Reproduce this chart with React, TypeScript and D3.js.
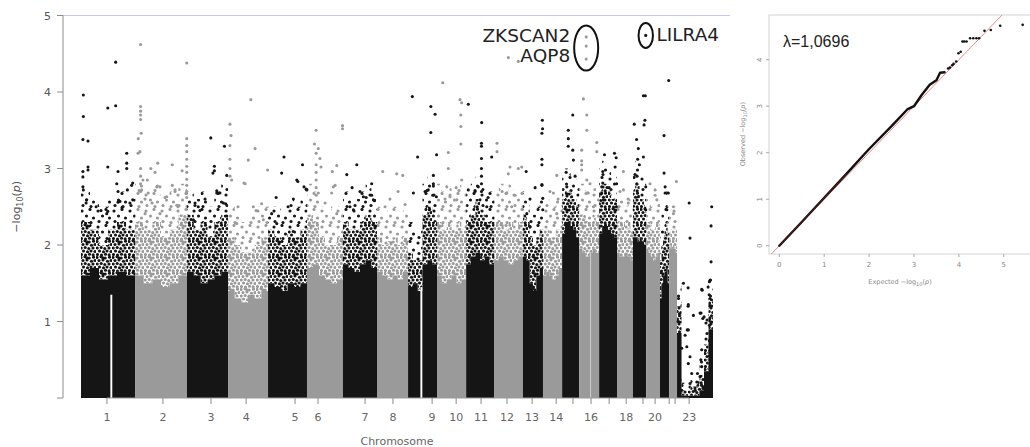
import React from "react";
import * as d3 from "d3";

// ---------- Manhattan data ----------
const chromosomes = ["1","2","3","4","5","6","7","8","9","10","11","12","13","14","15","16","17","18","19","20","21","22","23"];
const chrLengthsMb = [254,244,193,188,183,169,160,146,136,137,131,136,94,90,80,94,84,75,62,65,43,37,169];
const chrTickMb = [122,385,611,776,1006,1114,1335,1466,1650,1763,1880,2002,2120,2233,2312,2397,2482,2562,2641,2698,2764,2792,2858];
const chrTickLabels = ["1","2","3","4","5","6","7","8","9","10","11","12","13","14","","16","","18","","20","","","23"];

// top of the solid (fully overplotted) body of each chromosome, -log10(p)
const solidTop = [
  [1.6,1.7,1.55,1.6,1.65,1.6],
  [1.6,1.5,1.55,1.45,1.5,1.6],
  [1.65,1.6,1.5,1.55,1.6,1.65],
  [1.4,1.3,1.25,1.35,1.3,1.4],
  [1.5,1.45,1.4,1.5,1.45,1.5],
  [1.7,1.75,1.6,1.55,1.5,1.55],
  [1.75,1.7,1.65,1.75,1.8,1.7],
  [1.65,1.6,1.55,1.6,1.55,1.65],
  [1.45,1.5,1.4,1.75,1.8,1.75],
  [1.6,1.5,1.55,1.6,1.5,1.55],
  [1.75,1.85,1.9,1.8,1.85,1.75],
  [1.8,1.85,1.8,1.75,1.8,1.85],
  [1.85,1.8,1.5,1.4,1.6,1.7],
  [1.6,1.65,1.6,1.55,1.6,1.7],
  [2.15,2.3,2.3,2.25,2.2,2.1],
  [1.95,1.9,1.85,1.9,1.95,1.9],
  [2.15,2.25,2.25,2.2,2.15,2.1],
  [1.9,1.85,1.85,1.9,1.85,1.8],
  [2.1,2.1,2.05,2.1,2.05,2.0],
  [1.95,1.9,1.85,1.8,1.85,1.9],
  [1.3,1.5,1.6,1.65,1.7,1.5],
  [1.95,2.0,1.95,2.0,1.95,1.9],
  [0.85,0.03,0.03,0.03,0.03,0.1,0.35,0.9],
];
// top of the dense speckled zone above the solid body
const denseTop = [
  [2.3,2.2,2.0,2.2,2.3,2.2],
  [2.3,2.2,2.3,2.1,2.2,2.4],
  [2.4,2.2,2.3,2.1,2.3,2.4],
  [2.1,2.0,1.9,1.9,2.0,2.1],
  [2.2,2.1,2.0,2.2,2.1,2.2],
  [2.4,2.3,2.1,2.0,2.0,2.1],
  [2.3,2.2,2.2,2.3,2.4,2.3],
  [2.1,2.0,2.05,2.1,2.0,2.1],
  [1.9,1.8,1.8,2.4,2.5,2.3],
  [2.3,2.2,2.3,2.2,2.3,2.2],
  [2.3,2.4,2.6,2.4,2.3,2.3],
  [2.3,2.3,2.2,2.3,2.2,2.3],
  [2.4,2.3,2.1,2.0,2.1,2.2],
  [2.2,2.2,2.1,2.1,2.2,2.2],
  [2.6,2.7,2.7,2.6,2.6,2.5],
  [2.4,2.4,2.3,2.3,2.4,2.3],
  [2.7,2.8,2.8,2.7,2.6,2.6],
  [2.3,2.3,2.3,2.2,2.3,2.2],
  [2.7,2.8,2.8,2.6,2.6,2.5],
  [2.3,2.3,2.2,2.2,2.3,2.3],
  [1.8,2.0,2.1,2.2,2.3,2.1],
  [2.1,2.2,2.2,2.2,2.2,2.2],
  [1.2,0.1,0.1,0.15,0.15,0.3,0.7,1.3],
];
// top of the thinning scatter zone above the dense zone
const sparseTop = [
  [2.7,2.6,2.5,2.6,2.7,2.6],
  [2.8,2.7,2.8,2.6,2.7,2.8],
  [2.7,2.6,2.7,2.5,2.7,2.8],
  [2.5,2.4,2.3,2.4,2.5,2.5],
  [2.5,2.5,2.4,2.6,2.5,2.6],
  [2.8,2.7,2.5,2.4,2.5,2.5],
  [2.7,2.6,2.6,2.7,2.8,2.6],
  [2.5,2.4,2.5,2.5,2.4,2.5],
  [2.3,2.2,2.2,2.8,2.9,2.7],
  [2.8,2.7,2.8,2.7,2.8,2.7],
  [2.7,2.8,2.9,2.8,2.7,2.7],
  [2.7,2.8,2.7,2.8,2.7,2.7],
  [2.7,2.6,2.4,2.4,2.5,2.6],
  [2.6,2.6,2.5,2.5,2.6,2.6],
  [2.9,3.0,3.0,2.9,2.9,2.8],
  [2.8,2.8,2.7,2.7,2.8,2.7],
  [3.0,3.1,3.1,3.0,2.9,2.9],
  [2.6,2.6,2.6,2.5,2.6,2.5],
  [3.0,3.1,3.1,2.9,2.9,2.8],
  [2.6,2.6,2.5,2.5,2.6,2.6],
  [2.2,2.4,2.5,2.6,2.7,2.5],
  [2.4,2.5,2.5,2.5,2.5,2.5],
  [1.5,0.2,0.2,0.25,0.25,0.5,1.0,1.6],
];
// white centromere gaps: [startMb, endMb, top]
const gapStart = [138, 1595, 2393];
const gapEnd = [147, 1604, 2397];
const gapTop = [1.35, 1.45, 1.9];

// individual SNPs above the dense body: [chromosome, cumulative Mb, -log10(p)]
const topHits: [number, number, number][] = [
  [1,11,3.96],[1,11,3.68],[1,9,3.38],[1,33,3.36],[1,9,2.96],[1,33,3.02],[1,9,2.89],[1,9,2.76],[1,33,2.98],[1,163,4.39],[1,126,3.79],[1,163,3.82],[1,126,3.02],[1,215,3.2],[1,215,3.07],[1,215,3.0],[1,174,2.96],[1,174,2.7],[1,218,2.72],[1,243,2.81],[1,243,2.59],[1,126,2.44],[1,174,2.56],[1,193,2.49],[1,71,2.5],[1,94,2.45],[1,24,2.55],[1,11,2.72],[1,27,2.59],[1,121,2.41],[1,168,2.8],[1,183,2.57],[1,230,2.55],[1,238,2.78],
  [2,280,4.62],[2,280,3.81],[2,280,3.75],[2,280,3.7],[2,280,3.64],[2,283,3.46],[2,269,3.39],[2,277,3.22],[2,268,3.2],[2,497,4.38],[2,497,3.39],[2,497,3.3],[2,497,3.22],[2,497,3.12],[2,497,3.03],[2,497,2.95],[2,497,2.86],[2,497,2.78],[2,497,2.7],[2,497,2.62],[2,361,3.07],[2,429,3.05],[2,328,3.0],[2,348,2.95],[2,312,2.85],[2,291,2.85],[2,371,2.76],[2,429,2.78],[2,442,2.7],[2,475,2.97],[2,280,3.0],[2,280,2.9],[2,280,2.8],[2,280,2.7],[2,395,2.62],[2,334,2.55],[2,456,2.5],[2,301,2.6],[2,285,2.72],[2,316,2.68],[2,356,2.76],[2,403,2.63],[2,442,2.72],[2,450,2.52],[2,371,2.41],[2,301,2.41],
  [3,610,3.4],[3,627,3.03],[3,627,2.97],[3,674,3.29],[3,638,2.71],[3,653,2.68],[3,685,2.91],[3,680,2.54],[3,620,2.94],[3,536,2.55],[3,583,2.6],[3,559,2.45],[3,551,2.5],[3,638,2.68],[3,669,2.55],[3,685,2.38],[3,528,2.33],
  [4,700,3.58],[4,705,3.43],[4,700,3.3],[4,700,3.12],[4,700,3.0],[4,700,2.9],[4,708,2.85],[4,798,3.9],[4,818,3.26],[4,786,3.11],[4,766,2.81],[4,877,2.98],[4,849,2.54],[4,738,2.5],[4,823,2.45],[4,771,2.8],[4,810,2.5],[4,857,2.33],[4,732,2.28],
  [5,954,3.15],[5,943,2.94],[5,1041,3.05],[5,1019,2.83],[5,1048,2.76],[5,1058,2.73],[5,998,2.6],[5,896,2.41],[5,973,2.5],[5,917,2.62],[5,920,2.28],[5,1014,2.85],[5,1061,2.72],
  [6,1105,3.5],[6,1097,3.32],[6,1115,3.26],[6,1105,3.2],[6,1123,3.13],[6,1105,3.05],[6,1105,2.95],[6,1105,2.85],[6,1105,2.75],[6,1105,2.65],[6,1128,3.02],[6,1202,3.04],[6,1181,2.96],[6,1194,2.78],[6,1178,2.68],[6,1229,3.56],[6,1229,3.52],[6,1147,2.55],[6,1115,2.68],[6,1186,2.76],[6,1202,2.41],
  [7,1249,2.92],[7,1296,3.05],[7,1340,2.62],[7,1366,2.65],[7,1379,2.58],[7,1311,2.7],[7,1264,2.5],[7,1274,2.75],[7,1280,2.46],[7,1327,2.63],[7,1374,2.59],[7,1366,2.8],
  [8,1418,2.96],[8,1484,2.93],[8,1512,2.91],[8,1452,2.6],[8,1429,2.5],[8,1490,2.7],[8,1523,2.53],
  [9,1557,3.94],[9,1644,3.81],[9,1664,3.71],[9,1644,3.47],[9,1582,3.15],[9,1671,3.18],[9,1562,2.68],[9,1656,2.91],[9,1656,2.8],[9,1656,2.77],[9,1617,2.7],[9,1632,2.72],[9,1653,2.65],[9,1670,2.63],[9,1637,2.46],[9,1656,2.38],
  [10,1700,4.12],[10,1781,3.9],[10,1789,3.86],[10,1785,3.7],[10,1785,3.55],[10,1785,3.32],[10,1726,3.21],[10,1726,3.0],[10,1763,2.75],[10,1711,2.6],[10,1719,2.76],[10,1734,2.63],[10,1789,2.85],[10,1766,2.59],
  [11,1820,3.84],[11,1883,3.6],[11,1882,3.33],[11,1882,3.29],[11,1882,3.13],[11,1882,3.0],[11,1882,2.9],[11,1882,2.8],[11,1882,2.7],[11,1930,3.15],[11,1852,2.7],[11,1913,2.62],[11,1820,2.72],[11,1867,2.76],[11,1875,2.59],[11,1907,2.5],
  [12,2008,4.45],[12,2055,4.4],[12,1955,3.33],[12,1955,3.22],[12,2008,2.93],[12,2055,3.0],[12,2016,3.02],[12,2071,3.02],[12,1979,2.7],[12,2040,2.65],[12,2001,2.68],[12,2024,2.5],
  [13,2092,2.96],[13,2168,3.63],[13,2166,3.46],[13,2169,3.52],[13,2166,3.12],[13,2166,3.05],[13,2166,2.79],[13,2134,2.75],[13,2110,2.6],[13,2166,2.78],[13,2170,2.61],[13,2170,2.46],[13,2095,2.41],[13,2110,2.24],
  [14,2236,2.91],[14,2204,2.7],[14,2242,2.6],[14,2220,2.68],[14,2236,2.41],
  [15,2290,3.5],[15,2290,3.39],[15,2290,3.29],[15,2311,3.7],[15,2311,3.24],[15,2314,3.11],[15,2280,2.95],[15,2322,2.9],[15,2283,2.76],[15,2306,2.63],[15,2298,2.5],
  [16,2374,4.72],[16,2374,4.6],[16,2374,4.43],[16,2361,3.91],[16,2377,3.7],[16,2377,3.5],[16,2353,3.24],[16,2353,3.1],[16,2353,3.05],[16,2353,2.98],[16,2424,3.34],[16,2424,3.22],[16,2392,2.8],[16,2377,2.85],[16,2384,2.68],[16,2408,2.5],
  [17,2460,3.18],[17,2507,3.2],[17,2515,3.14],[17,2510,3.02],[17,2452,2.96],[17,2452,2.81],[17,2447,2.68],[17,2482,2.75],[17,2447,2.76],[17,2517,2.8],[17,2455,2.59],[17,2516,2.5],
  [18,2549,2.96],[18,2533,2.7],[18,2571,2.6],[18,2549,2.72],[18,2572,2.55],
  [19,2654,4.74],[19,2643,3.95],[19,2652,3.95],[19,2650,3.63],[19,2646,3.57],[19,2600,3.58],[19,2611,3.38],[19,2619,3.26],[19,2616,3.12],[19,2624,3.05],[19,2643,3.15],[19,2613,2.9],[19,2612,2.8],[19,2654,2.76],[19,2619,2.63],[19,2654,2.46],
  [20,2674,2.8],[20,2698,2.65],[20,2698,2.72],[20,2706,2.59],
  [21,2762,4.15],[21,2740,3.43],[21,2740,2.94],[21,2745,2.68],[21,2745,2.76],[21,2760,2.68],[21,2753,2.46],
  [22,2798,2.83],[22,2784,2.5],[22,2784,2.41],
  [23,2858,2.55],[23,2964,2.5],[23,2961,2.25],[23,2862,2.09],[23,2961,1.78],[23,2956,1.54],[23,2947,1.45],[23,2853,1.44],[23,2919,1.41],[23,2853,1.2],[23,2952,1.35],[23,2914,1.11],[23,2928,1.06],[23,2849,0.89],[23,2942,1.02],[23,2831,1.5],[23,2917,1.42],[23,2953,1.52],[23,2956,1.3],[23,2956,1.2],[23,2956,1.05],[23,2953,0.95],[23,2956,0.85],[23,2953,0.75],[23,2956,0.62],[23,2953,0.55],[23,2956,0.45],[23,2854,1.22],[23,2878,1.08],[23,2909,1.11],[23,2922,1.04],[23,2839,0.82],[23,2854,0.89],[23,2823,0.65],[23,2847,0.67],[23,2862,0.54],[23,2854,0.45],[23,2870,0.32],[23,2862,0.19],[23,2897,0.32],[23,2894,0.21],[23,2886,0.1],[23,2917,0.63],[23,2913,0.5],[23,2917,0.41],[23,2909,0.28],[23,2922,0.15],[23,2812,0.45],[23,2815,0.24],[23,2823,0.1],[23,2808,1.3],[23,2812,1.1],[23,2806,1.0],
];

const yTicks = [0, 1, 2, 3, 4, 5];
const yTickLabels = ["", "1", "2", "3", "4", "5"];

// annotated genes
const annotChr = [16, 19];
const annotPos = [2374, 2654];
const annotVals = [[4.72, 4.6, 4.43], [4.74]];
const annotLabels = [["ZKSCAN2", "AQP8"], ["LILRA4"]];

// ---------- QQ data ----------
const qqCurve: [number, number][] = [[0,0],[0.5,0.51],[1,1.03],[1.5,1.55],[2,2.08],[2.5,2.57],[2.85,2.93],[3.0,3.0],[3.17,3.24],[3.35,3.46],[3.5,3.56],[3.58,3.72],[3.68,3.73]];
const qqPoints: [number, number][] = [[3.76,3.81],[3.8,3.83],[3.85,3.88],[3.88,3.91],[3.94,3.96],[3.99,4.14],[4.04,4.17],[4.08,4.39],[4.12,4.39],[4.17,4.39],[4.25,4.46],[4.32,4.46],[4.39,4.46],[4.45,4.46],[4.57,4.62],[4.71,4.64],[4.92,4.73],[5.42,4.75]];
const qqXTicks = [0, 1, 2, 3, 4, 5];
const qqYTicks = [0, 1, 2, 3, 4];
const lambdaText = "λ=1,0696";

const DARK = "#151515";
const GREY = "#9a9a9a";
// texture for overplotted point clouds
const denseDots = [[1,1.5],[5,0.8],[9.2,2],[13.5,1.2],[3,4.5],[7,4],[11.5,5.2],[15,4.5],[1.2,8],[5.2,7.5],[8.8,8.5],[13,8],[3.5,11],[7.5,11.8],[11,11],[15,11.5],[1.5,14.5],[5.5,15],[9.5,14.2],[13.2,14.8],[6.8,1.9]];
const sparseDots = [[2,3],[10,1.5],[6.5,8],[13.5,10],[3,13.5],[11,14.5]];

export default function App() {
  const total = d3.sum(chrLengthsMb);
  const x = d3.scaleLinear().domain([0, total]).range([81, 713]);
  const y = d3.scaleLinear().domain([0, 5]).range([398, 15.5]);
  const starts = Array.from(d3.cumsum([0, ...chrLengthsMb]));

  const area = d3
    .area<[number, number, number]>()
    .x((d) => x(d[0]))
    .y0((d) => y(d[1]))
    .y1((d) => y(d[2]))
    .curve(d3.curveStepAfter);

  const profile = (i: number, lo: number[] | null, hi: number[]) => {
    const n = hi.length;
    const len = chrLengthsMb[i];
    const pts: [number, number, number][] = hi.map((h, k) => [starts[i] + (k * len) / n, lo ? lo[k] : 0, h]);
    pts.push([starts[i] + len, lo ? lo[n - 1] : 0, hi[n - 1]]);
    return area(pts) || "";
  };

  const colorOf = (chr: number) => ((chr - 1) % 2 === 0 ? DARK : GREY);

  // QQ scales
  const qx = d3.scaleLinear().domain([0, 5]).range([779.3, 1003.8]);
  const qy = d3.scaleLinear().domain([0, 4]).range([245.7, 59.7]);
  const qqLine = d3.line<[number, number]>().x((d) => qx(d[0])).y((d) => qy(d[1]));
  const boxL = 769, boxT = 15, boxR = 1031, boxB = 254;

  const sans = "'DejaVu Sans', sans-serif";

  const pat = (id: string, dots: number[][], fill: string) => (
    <pattern id={id} width={16} height={16} patternUnits="userSpaceOnUse">
      {dots.map((p, i) => (
        <circle key={i} cx={p[0]} cy={p[1]} r={1.55} fill={fill} />
      ))}
    </pattern>
  );

  return (
    <svg width={1030} height={447} style={{ position: "absolute", left: 0, top: 0, background: "#fff" }} fontFamily={sans}>
      <defs>
        {pat("denseDark", denseDots, DARK)}
        {pat("denseGrey", denseDots, GREY)}
        {pat("sparseDark", sparseDots, DARK)}
        {pat("sparseGrey", sparseDots, GREY)}
        <clipPath id="qqclip">
          <rect x={boxL} y={boxT} width={boxR - boxL} height={boxB - boxT} />
        </clipPath>
      </defs>

      {/* ---------------- Manhattan ---------------- */}
      <line x1={63} x2={730} y1={y(5)} y2={y(5)} stroke="#c6c6ee" strokeWidth={1.2} />

      {chromosomes.map((c, i) => {
        const dark = i % 2 === 0;
        return (
          <g key={"body" + c}>
            <path d={profile(i, denseTop[i], sparseTop[i])} fill={dark ? "url(#sparseDark)" : "url(#sparseGrey)"} />
            <path d={profile(i, solidTop[i], denseTop[i])} fill={dark ? "url(#denseDark)" : "url(#denseGrey)"} />
            <path d={profile(i, null, solidTop[i])} fill={dark ? DARK : GREY} />
          </g>
        );
      })}

      {gapStart.map((g, i) => (
        <rect key={"gap" + i} x={x(g)} width={x(gapEnd[i]) - x(g)} y={y(gapTop[i])} height={y(0) - y(gapTop[i])} fill="#fff" opacity={i === 2 ? 0.6 : 1} />
      ))}

      {topHits.map((h, i) => (
        <circle key={"h" + i} cx={x(h[1])} cy={y(h[2])} r={1.55} fill={colorOf(h[0])} />
      ))}

      {/* y axis */}
      <line x1={63} x2={63} y1={y(0)} y2={y(5)} stroke="#8a8a8a" strokeWidth={1} />
      {yTicks.map((t, i) => (
        <g key={"yt" + t}>
          <line x1={57} x2={63} y1={y(t)} y2={y(t)} stroke="#8a8a8a" />
          <text x={51} y={y(t) + 4} textAnchor="end" fontSize={11} fill="#555">
            {yTickLabels[i]}
          </text>
        </g>
      ))}
      <text transform={`translate(20,${y(2.5)}) rotate(-90)`} textAnchor="middle" fontSize={11} fill="#555">
        −log<tspan fontSize={8} dy={3}>10</tspan>
        <tspan dy={-3}>(</tspan>
        <tspan fontStyle="italic">p</tspan>)
      </text>

      {/* x axis */}
      <line x1={x(chrTickMb[0])} x2={x(chrTickMb[chrTickMb.length - 1])} y1={398} y2={398} stroke="#9a9a9a" />
      {chrTickMb.map((t, i) => (
        <g key={"xt" + i}>
          <line x1={x(t)} x2={x(t)} y1={398} y2={404} stroke="#8a8a8a" />
          <text x={x(t)} y={421} textAnchor="middle" fontSize={11} fill="#666">
            {chrTickLabels[i]}
          </text>
        </g>
      ))}
      <text x={397} y={445} textAnchor="middle" fontSize={11} fill="#666">
        Chromosome
      </text>

      {/* annotations */}
      {annotChr.map((c, i) => {
        const cx = x(annotPos[i]);
        const vals = annotVals[i];
        const ymin = y(d3.max(vals) as number);
        const ymax = y(d3.min(vals) as number);
        const cy = (ymin + ymax) / 2;
        const multi = vals.length > 1;
        const rx = multi ? 12 : 7.2;
        const ry = (ymax - ymin) / 2 + (multi ? 11.5 : 12.5);
        return (
          <g key={"ann" + c}>
            <ellipse cx={cx} cy={cy} rx={rx} ry={ry} fill="none" stroke="#111" strokeWidth={2} />
            {multi ? (
              annotLabels[i].map((l, k) => (
                <text key={l} x={cx - rx - 4} y={cy - 6 + k * 19.5} textAnchor="end" fontSize={18.5} fill="#222">
                  {l}
                </text>
              ))
            ) : (
              <text x={cx + rx + 3.5} y={cy + 6} fontSize={18.5} fill="#222">
                {annotLabels[i][0]}
              </text>
            )}
          </g>
        );
      })}

      {/* ---------------- QQ plot ---------------- */}
      <rect x={boxL} y={boxT} width={boxR - boxL} height={boxB - boxT} fill="none" stroke="#d4d4d4" strokeWidth={1} />
      <g clipPath="url(#qqclip)">
        <line x1={qx(-1)} y1={qy(-1)} x2={qx(6)} y2={qy(6)} stroke="#e88a8a" strokeWidth={1} />
        <path d={qqLine(qqCurve) || ""} fill="none" stroke="#111" strokeWidth={2.4} strokeLinecap="round" strokeLinejoin="round" />
        <path d={qqLine(qqCurve.slice(0, 4)) || ""} fill="none" stroke="#8a1a1a" strokeWidth={1} opacity={0.7} />
        {qqPoints.map((p, i) => (
          <circle key={"qp" + i} cx={qx(p[0])} cy={qy(p[1])} r={1.3} fill="#111" />
        ))}
      </g>
      {qqXTicks.map((t) => (
        <g key={"qxt" + t}>
          <line x1={qx(t)} x2={qx(t)} y1={boxB} y2={boxB + 3} stroke="#aaa" />
          <text x={qx(t)} y={boxB + 13} textAnchor="middle" fontSize={7} fill="#888">
            {t}
          </text>
        </g>
      ))}
      {qqYTicks.map((t) => (
        <g key={"qyt" + t}>
          <line x1={boxL - 3} x2={boxL} y1={qy(t)} y2={qy(t)} stroke="#aaa" />
          <text transform={`translate(${boxL - 7},${qy(t)}) rotate(-90)`} textAnchor="middle" fontSize={7} fill="#888">
            {t}
          </text>
        </g>
      ))}
      <text x={900} y={284} textAnchor="middle" fontSize={6.5} fill="#888">
        Expected{"  "}−log<tspan fontSize={5} dy={2}>10</tspan>
        <tspan dy={-2}>(</tspan>
        <tspan fontStyle="italic">p</tspan>)
      </text>
      <text transform={`translate(745,${qy(2.4)}) rotate(-90)`} textAnchor="middle" fontSize={6.5} fill="#888">
        Observed{"  "}−log<tspan fontSize={5} dy={2}>10</tspan>
        <tspan dy={-2}>(</tspan>
        <tspan fontStyle="italic">p</tspan>)
      </text>
      <text x={783} y={46.5} fontSize={16} fill="#222" fontFamily="'Liberation Sans', Arial, sans-serif">
        {lambdaText}
      </text>
    </svg>
  );
}
